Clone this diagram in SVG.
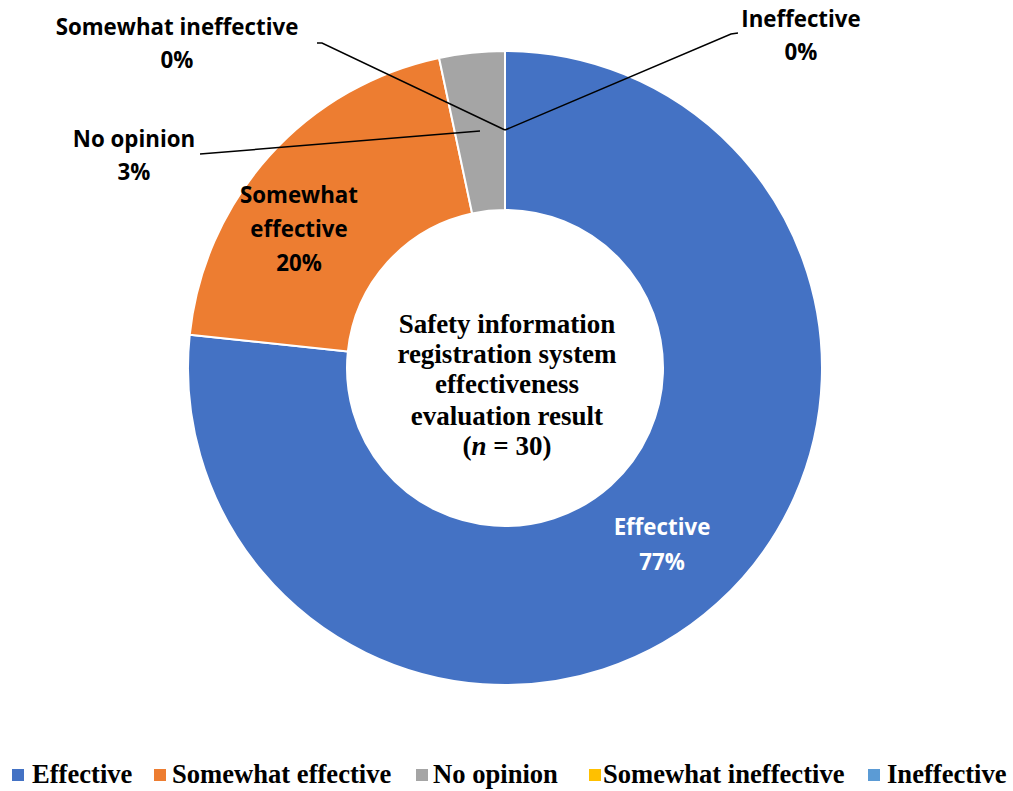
<svg xmlns="http://www.w3.org/2000/svg" width="1013" height="791" viewBox="0 0 1013 791">
<style>
.seg{stroke:#fff;stroke-width:2;stroke-linejoin:round}
.lbl{font-family:"Open Sans","Liberation Sans",sans-serif;font-weight:bold;font-size:22.3px;text-anchor:middle;fill:#000}
.w{fill:#fff}
.ctr{font-family:"Liberation Serif","Times New Roman",serif;font-weight:bold;font-size:27px;text-anchor:middle;fill:#000}
.leg{font-family:"Liberation Serif","Times New Roman",serif;font-weight:bold;font-size:26.6px;fill:#000}
.lead{fill:none;stroke:#000;stroke-width:1.5}
</style>
<rect width="1013" height="791" fill="#fff"/>
<g id="slice-effective">
<path class="seg" fill="#4472C4" d="M505,51 A317,317 0 1 1 189.73,334.86 L347.87,351.48 A158,158 0 1 0 505,210 Z"/>
<text class="lbl w" x="662" y="535">Effective</text>
<text class="lbl w" x="662" y="570">77%</text>
</g>
<g id="slice-somewhat-effective">
<path class="seg" fill="#ED7D31" d="M189.73,334.86 A317,317 0 0 1 439.09,57.93 L472.15,213.45 A158,158 0 0 0 347.87,351.48 Z"/>
<text class="lbl" x="299" y="203">Somewhat</text>
<text class="lbl" x="299" y="237">effective</text>
<text class="lbl" x="299" y="271">20%</text>
</g>
<g id="slice-no-opinion">
<path class="seg" fill="#A5A5A5" d="M439.09,57.93 A317,317 0 0 1 505,51 L505,210 A158,158 0 0 0 472.15,213.45 Z"/>
<text class="lbl" x="134" y="147">No opinion</text>
<text class="lbl" x="134" y="180">3%</text>
</g>
<g id="slice-somewhat-ineffective">
<text class="lbl" x="177" y="35">Somewhat ineffective</text>
<text class="lbl" x="177" y="68">0%</text>
</g>
<g id="slice-ineffective">
<text class="lbl" x="801" y="27">Ineffective</text>
<text class="lbl" x="801" y="60">0%</text>
</g>
<g id="connectors">
<polyline class="lead" points="317,43 322,43 505,130"/>
<polyline class="lead" points="738,33 731,34 505,130"/>
<polyline class="lead" points="200,154 480,131"/>
</g>
<g id="center-title">
<text class="ctr" x="507" y="333">Safety information</text>
<text class="ctr" x="507" y="363">registration system</text>
<text class="ctr" x="507" y="393">effectiveness</text>
<text class="ctr" x="507" y="425">evaluation result</text>
<text class="ctr" x="507" y="455">(<tspan font-style="italic">n</tspan> = 30)</text>
</g>
<g id="legend">
<rect x="12" y="769" width="12" height="12" fill="#4472C4"/>
<text class="leg" x="32" y="783">Effective</text>
<rect x="154" y="769" width="12" height="12" fill="#ED7D31"/>
<text class="leg" x="172" y="783">Somewhat effective</text>
<rect x="416" y="769" width="12" height="12" fill="#A5A5A5"/>
<text class="leg" x="433" y="783">No opinion</text>
<rect x="589" y="769" width="12" height="12" fill="#FFC000"/>
<text class="leg" x="603" y="783">Somewhat ineffective</text>
<rect x="868" y="769" width="12" height="12" fill="#5B9BD5"/>
<text class="leg" x="887" y="783">Ineffective</text>
</g>
</svg>
